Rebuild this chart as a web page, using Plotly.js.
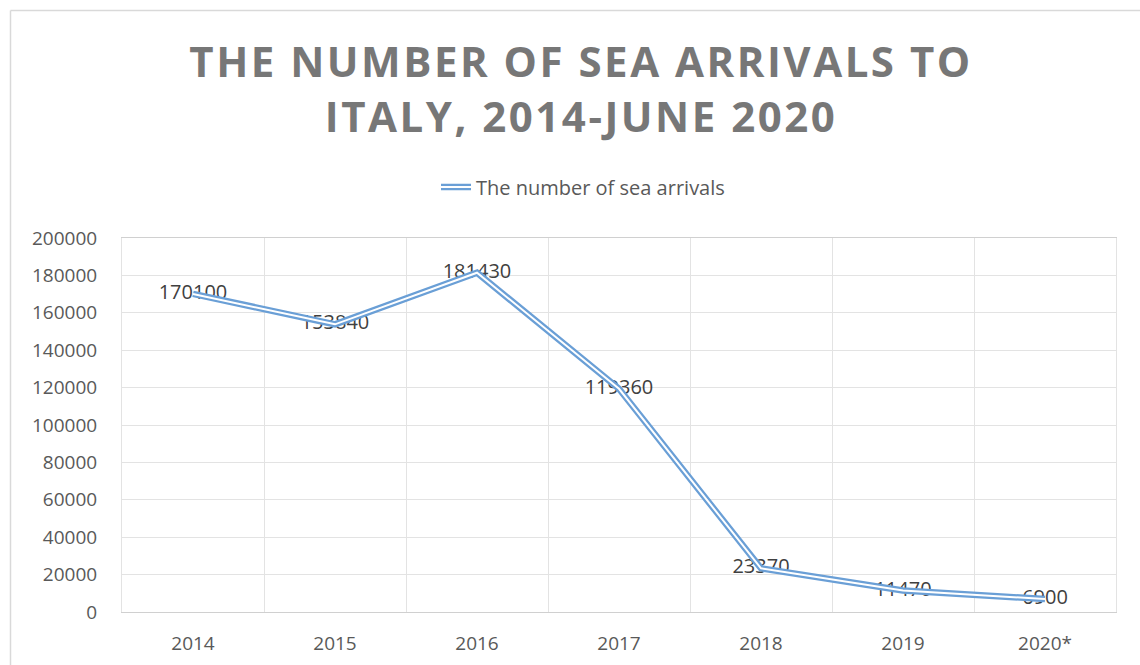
<!DOCTYPE html>
<html>
<head>
<meta charset="utf-8">
<script src="https://cdn.plot.ly/plotly-3.0.1.min.js"></script>
<style>
  html, body { margin: 0; padding: 0; background: #ffffff; }
  #chart { width: 1140px; height: 665px; }
  .gtitle { letter-spacing: 2.5px; }
</style>
</head>
<body>
<div id="chart"></div>
<script>
const categories = ["2014", "2015", "2016", "2017", "2018", "2019", "2020*"];
const seaArrivals = [170100, 153840, 181430, 119360, 23370, 11470, 6900];
const labels = seaArrivals.map(v => String(v));
const seriesName = "The number of sea arrivals";

const traces = [
  {
    x: categories, y: seaArrivals, type: "scatter", mode: "text",
    text: labels, textposition: "middle center",
    textfont: { family: "Open Sans, sans-serif", size: 20, color: "#404040" },
    showlegend: false, hoverinfo: "skip", cliponaxis: false
  },
  {
    x: categories, y: seaArrivals, type: "scatter", mode: "lines",
    name: seriesName,
    line: { color: "#6a9fd6", width: 6.5 },
    showlegend: true, legend: "legend"
  },
  {
    x: categories, y: seaArrivals, type: "scatter", mode: "lines",
    name: seriesName,
    line: { color: "#ffffff", width: 2 },
    showlegend: true, legend: "legend2", hoverinfo: "skip"
  }
];

const L = 122, R = 24, T = 238, B = 53;
const plotW = 1140 - L - R, plotH = 665 - T - B;
const px = v => (v - L) / plotW;
const py = v => (665 - B - v) / plotH;

const legendFont = { family: "Open Sans, sans-serif", size: 20, color: "#595959" };

const layout = {
  width: 1140, height: 665,
  margin: { l: L, r: R, t: T, b: B },
  paper_bgcolor: "#ffffff", plot_bgcolor: "#ffffff",
  title: {
    text: "THE NUMBER OF SEA ARRIVALS TO<br>ITALY, 2014-JUNE 2020",
    font: { family: "Open Sans, sans-serif", size: 42, color: "#777777", weight: 700 },
    x: 581 / 1140, xanchor: "center", xref: "container",
    y: 1 - 77 / 665, yanchor: "middle", yref: "container"
  },
  showlegend: true,
  legend: {
    orientation: "h", x: px(583), xanchor: "center", y: py(187), yanchor: "middle",
    font: legendFont, bgcolor: "rgba(0,0,0,0)"
  },
  legend2: {
    orientation: "h", x: px(583), xanchor: "center", y: py(187), yanchor: "middle",
    font: Object.assign({}, legendFont, { color: "rgba(0,0,0,0)" }), bgcolor: "rgba(0,0,0,0)"
  },
  xaxis: {
    type: "category", tickson: "boundaries", range: [-0.5, 6.5], autorange: false,
    showgrid: true, gridcolor: "#e3e3e3", gridwidth: 1,
    showline: true, linecolor: "#d0d0d0", linewidth: 1, mirror: true,
    ticks: "", ticklabelstandoff: 14,
    tickfont: { family: "Open Sans, sans-serif", size: 19, color: "#595959" },
    zeroline: false, fixedrange: true
  },
  yaxis: {
    range: [0, 200000], dtick: 20000, tick0: 0,
    showgrid: true, gridcolor: "#e3e3e3", gridwidth: 1,
    showline: true, linecolor: "#e3e3e3", linewidth: 1, mirror: true,
    ticks: "", ticklabelstandoff: 20,
    tickfont: { family: "Open Sans, sans-serif", size: 19, color: "#595959" },
    zeroline: false, fixedrange: true, tickformat: "d"
  },
  shapes: [
    { type: "line", xref: "paper", yref: "paper", x0: px(10.5), x1: px(1145), y0: py(10.5), y1: py(10.5),
      line: { color: "#d9d9d9", width: 1.5 } },
    { type: "line", xref: "paper", yref: "paper", x0: px(10.5), x1: px(10.5), y0: py(10.5), y1: py(670),
      line: { color: "#d9d9d9", width: 1.5 } }
  ]
};

Plotly.newPlot("chart", traces, layout, { displayModeBar: false, staticPlot: true });
</script>
</body>
</html>
